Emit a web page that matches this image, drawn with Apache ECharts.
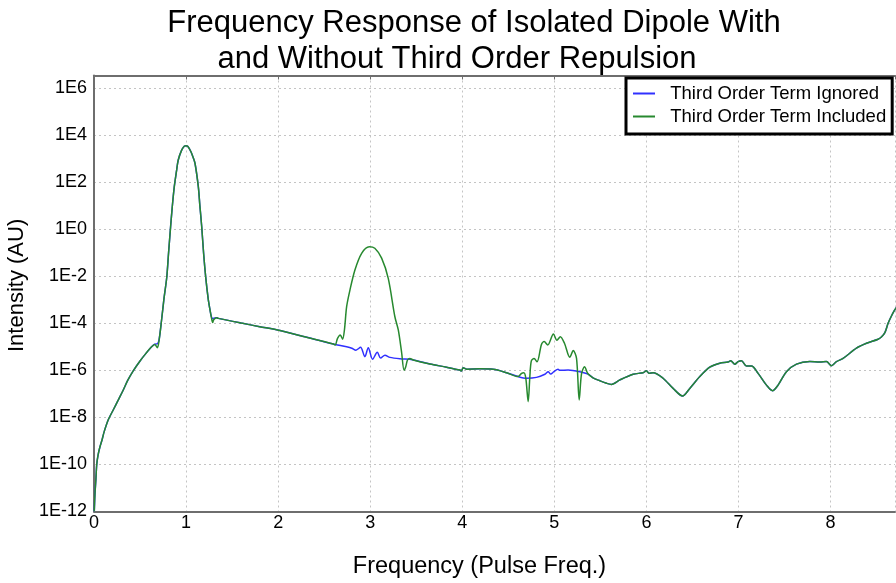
<!DOCTYPE html>
<html>
<head>
<meta charset="utf-8">
<script src="https://cdn.jsdelivr.net/npm/echarts@6/dist/echarts.min.js"></script>
<style>html,body{margin:0;padding:0;background:#fff}#c{width:896px;height:583px}</style>
</head>
<body>
<div id="c"></div>
<script>
const titleLines = ['Frequency Response of Isolated Dipole With', 'and Without Third Order Repulsion'];
const seriesNames = ['Third Order Term Ignored', 'Third Order Term Included'];
const xAxisName = 'Frequency (Pulse Freq.)';
const yAxisName = 'Intensity (AU)';

// [frequency, intensity]
const thirdOrderIncluded = [
  [0.003,1e-12],[0.01,5.0e-12],[0.02,2.1e-11],[0.03,1.0e-10],[0.045,2.6e-10],[0.065,5.6e-10],[0.09,1.2e-9],[0.11,2.4e-9],
  [0.155,7.8e-9],[0.21,2.1e-8],[0.264,5.5e-8],[0.318,1.45e-7],[0.366,3.7e-7],[0.426,9.5e-7],[0.5,2.5e-6],
  [0.56,5.0e-6],[0.626,1.0e-5],[0.66,1.26e-5],[0.688,9.1e-6],[0.706,1.78e-5],[0.734,1.38e-4],[0.76,1.12e-3],
  [0.79,8.9e-3],[0.81,0.1],[0.832,1.29],[0.85,8.9],[0.872,65],[0.895,282],[0.915,890],[0.952,2340],
  [0.98,3390],[1.0,3630],[1.02,3310],[1.053,2000],[1.075,1200],[1.097,646],[1.133,65],[1.15,10],
  [1.17,1.29],[1.19,0.1],[1.213,9.5e-3],[1.24,1.12e-3],[1.26,3.7e-4],[1.275,1.78e-4],[1.289,1.07e-4],
  [1.30,1.41e-4],[1.33,1.74e-4],[1.35,1.62e-4],[1.6,1.02e-4],[1.8,7.2e-5],[2.02,4.9e-5],[2.3,2.6e-5],[2.6,1.32e-5],
  [2.62,1.2e-5],[2.645,2.3e-5],[2.675,3.2e-5],[2.70,2.1e-5],[2.72,5.2e-5],[2.744,5.1e-4],[2.78,2.6e-3],
  [2.834,1.86e-2],[2.907,9.5e-2],[2.99,0.18],[3.05,0.155],[3.124,5.9e-2],[3.196,8.1e-3],[3.268,1.9e-4],
  [3.305,5.2e-5],[3.34,6.2e-6],[3.368,1.0e-6],[3.386,1.41e-6],[3.405,2.75e-6],[3.43,3.2e-6],[3.468,2.75e-6],
  [3.648,1.86e-6],[3.83,1.35e-6],[3.974,1.02e-6],[3.99,9.3e-7],[4.01,1.29e-6],[4.05,1.12e-6],[4.19,1.15e-6],
  [4.336,1.1e-6],[4.48,7.9e-7],[4.607,5.4e-7],
  [4.644,7.4e-7],[4.669,7.9e-7],[4.69,4.6e-7],[4.716,4.6e-8],[4.734,5.4e-7],[4.75,2.5e-6],[4.78,3.2e-6],
  [4.812,2.3e-6],[4.86,1.26e-5],[4.89,1.66e-5],[4.928,1.2e-5],[4.99,3.5e-5],[5.028,1.9e-5],[5.065,2.7e-5],
  [5.11,1.41e-5],[5.168,3.55e-6],[5.205,6.9e-6],[5.241,3.2e-6],[5.27,5.5e-8],[5.295,7.1e-7],[5.328,1.41e-6],
  [5.365,7.1e-7],[5.42,4.8e-7],
  [5.494,3.6e-7],[5.567,2.8e-7],[5.62,2.5e-7],[5.711,3.9e-7],[5.856,6.8e-7],[5.964,7.9e-7],[6.001,9.5e-7],
  [6.03,7.4e-7],[6.073,7.9e-7],[6.181,4.6e-7],[6.29,1.7e-7],[6.392,8.1e-8],[6.471,1.7e-7],[6.58,5.4e-7],
  [6.688,1.35e-6],[6.797,2.0e-6],[6.887,2.24e-6],[6.916,2.57e-6],[6.96,1.82e-6],[6.996,2.34e-6],[7.032,2.57e-6],
  [7.087,1.51e-6],[7.141,1.51e-6],[7.213,7.4e-7],[7.304,2.34e-7],[7.369,1.35e-7],[7.43,2.34e-7],[7.521,8.7e-7],
  [7.63,1.82e-6],[7.774,2.34e-6],[7.883,2.24e-6],[7.955,2.34e-6],[8.01,1.58e-6],[8.064,2.34e-6],[8.136,3.2e-6],
  [8.281,8.7e-6],[8.39,1.41e-5],[8.516,2.1e-5],[8.552,2.6e-5],[8.59,4.0e-5],[8.625,1.0e-4],[8.66,2.0e-4],
  [8.697,3.7e-4],[8.72,5.0e-4]
];

const thirdOrderIgnored = [
  [0.003,1e-12],[0.01,5.0e-12],[0.02,2.1e-11],[0.03,1.0e-10],[0.045,2.6e-10],[0.065,5.6e-10],[0.09,1.2e-9],[0.11,2.4e-9],
  [0.155,7.8e-9],[0.21,2.1e-8],[0.264,5.5e-8],[0.318,1.45e-7],[0.366,3.7e-7],[0.426,9.5e-7],[0.5,2.5e-6],
  [0.56,5.0e-6],[0.626,1.0e-5],[0.66,1.3e-5],[0.688,1.35e-5],[0.706,1.9e-5],[0.734,1.38e-4],[0.76,1.12e-3],
  [0.79,8.9e-3],[0.81,0.1],[0.832,1.29],[0.85,8.9],[0.872,65],[0.895,282],[0.915,890],[0.952,2340],
  [0.98,3390],[1.0,3630],[1.02,3310],[1.053,2000],[1.075,1200],[1.097,646],[1.133,65],[1.15,10],
  [1.17,1.29],[1.19,0.1],[1.213,9.5e-3],[1.24,1.12e-3],[1.26,3.7e-4],[1.275,1.9e-4],[1.289,1.58e-4],
  [1.30,1.66e-4],[1.33,1.74e-4],[1.35,1.62e-4],[1.6,1.02e-4],[1.8,7.2e-5],[2.02,4.9e-5],[2.3,2.6e-5],[2.6,1.32e-5],
  [2.744,1.0e-5],[2.80,8.7e-6],[2.845,7.2e-6],[2.895,9.5e-6],[2.942,3.8e-6],[2.979,9.1e-6],[3.026,2.95e-6],
  [3.077,5.9e-6],[3.113,3.3e-6],[3.16,4.4e-6],[3.214,3.55e-6],[3.322,3.1e-6],[3.431,2.95e-6],[3.468,2.75e-6],
  [3.648,1.86e-6],[3.83,1.35e-6],[3.974,1.02e-6],[3.99,9.3e-7],[4.01,1.29e-6],[4.05,1.12e-6],[4.19,1.15e-6],
  [4.336,1.1e-6],[4.48,7.9e-7],[4.607,5.4e-7],
  [4.698,4.6e-7],[4.806,5.0e-7],[4.897,6.8e-7],[4.933,8.7e-7],[4.96,6.9e-7],[4.995,8.7e-7],[5.04,1.1e-6],
  [5.06,1.0e-6],[5.15,1.02e-6],[5.277,8.7e-7],[5.367,6.9e-7],[5.42,4.8e-7],
  [5.494,3.6e-7],[5.567,2.8e-7],[5.62,2.5e-7],[5.711,3.9e-7],[5.856,6.8e-7],[5.964,7.9e-7],[6.001,9.5e-7],
  [6.03,7.4e-7],[6.073,7.9e-7],[6.181,4.6e-7],[6.29,1.7e-7],[6.392,8.1e-8],[6.471,1.7e-7],[6.58,5.4e-7],
  [6.688,1.35e-6],[6.797,2.0e-6],[6.887,2.24e-6],[6.916,2.57e-6],[6.96,1.82e-6],[6.996,2.34e-6],[7.032,2.57e-6],
  [7.087,1.51e-6],[7.141,1.51e-6],[7.213,7.4e-7],[7.304,2.34e-7],[7.369,1.35e-7],[7.43,2.34e-7],[7.521,8.7e-7],
  [7.63,1.82e-6],[7.774,2.34e-6],[7.883,2.24e-6],[7.955,2.34e-6],[8.01,1.58e-6],[8.064,2.34e-6],[8.136,3.2e-6],
  [8.281,8.7e-6],[8.39,1.41e-5],[8.516,2.1e-5],[8.552,2.6e-5],[8.59,4.0e-5],[8.625,1.0e-4],[8.66,2.0e-4],
  [8.697,3.7e-4],[8.72,5.0e-4]
];

const FONT = 'Liberation Sans, Arial, Helvetica, sans-serif';
const AXIS_COLOR = '#6e6e6e';
const GRID_LINE = {color: '#c4c4c4', width: 1, type: [2, 3]};
const BLUE = '#3030ff';
const GREEN = '#27892f';

const chart = echarts.init(document.getElementById('c'), null, {renderer: 'canvas'});
chart.setOption({
  animation: false,
  backgroundColor: '#fff',
  textStyle: {fontFamily: FONT},
  title: [
    {text: titleLines[0], left: 474, top: 8, textAlign: 'center', padding: 0,
     textStyle: {fontSize: 31, fontWeight: 'normal', color: '#000', fontFamily: FONT}},
    {text: titleLines[1], left: 457, top: 44, textAlign: 'center', padding: 0,
     textStyle: {fontSize: 31, fontWeight: 'normal', color: '#000', fontFamily: FONT}}
  ],
  legend: {
    orient: 'vertical', left: 626, top: 78, padding: [6, 6, 8, 7], itemGap: 4,
    itemWidth: 22, itemHeight: 2, icon: 'rect', borderColor: '#000', borderWidth: 3, borderRadius: 0,
    backgroundColor: '#fff', data: seriesNames,
    formatter: n => '  ' + n,
    textStyle: {fontSize: 18.5, color: '#000', fontFamily: FONT}
  },
  grid: {left: 94, right: 1, top: 75.5, bottom: 71.7, containLabel: false, outerBoundsMode: 'none'},
  xAxis: [
    {type: 'value', min: 0, max: 8.7, interval: 1,
     name: xAxisName, nameLocation: 'middle', nameGap: 43,
     nameTextStyle: {fontSize: 23.5, color: '#000', padding: [0, 30, 0, 0], fontFamily: FONT},
     axisLine: {show: true, onZero: false, lineStyle: {color: AXIS_COLOR, width: 2}},
     axisTick: {show: false},
     axisLabel: {fontSize: 18, color: '#000', margin: 3, fontFamily: FONT,
       formatter: v => Math.abs(v - Math.round(v)) < 1e-6 ? String(Math.round(v)) : ''},
     splitLine: {show: true, lineStyle: GRID_LINE}},
    {type: 'value', position: 'top', min: 0, max: 8.7, interval: 1,
     axisLine: {show: true, onZero: false, lineStyle: {color: AXIS_COLOR, width: 2}},
     axisTick: {show: true, inside: true, length: 4, lineStyle: {color: AXIS_COLOR, width: 1}},
     axisLabel: {show: false}, splitLine: {show: false}}
  ],
  yAxis: {
    type: 'log', logBase: 10, min: 1e-12, max: 3.5e6, interval: 2,
    name: yAxisName, nameLocation: 'middle', nameGap: 60, nameRotate: 90,
    nameTextStyle: {fontSize: 22, color: '#000', padding: [0, 0, 0, 16], fontFamily: FONT},
    axisLine: {show: true, lineStyle: {color: AXIS_COLOR, width: 2}},
    axisTick: {show: false},
    axisLabel: {fontSize: 18, color: '#000', margin: 7, fontFamily: FONT,
      formatter: v => {
        const e = Math.log10(v);
        if (Math.abs(e - Math.round(e)) > 0.01) return '';
        return '1E' + Math.round(e);
      }},
    splitLine: {show: true, lineStyle: GRID_LINE}
  },
  series: [
    {name: seriesNames[0], type: 'line', data: thirdOrderIgnored, symbol: 'none', smooth: 0.3,
     lineStyle: {color: BLUE, width: 1.5}, itemStyle: {color: BLUE}, z: 2},
    {name: seriesNames[1], type: 'line', data: thirdOrderIncluded, symbol: 'none', smooth: 0.3,
     lineStyle: {color: GREEN, width: 1.5}, itemStyle: {color: GREEN}, z: 3}
  ]
});
</script>
</body>
</html>
